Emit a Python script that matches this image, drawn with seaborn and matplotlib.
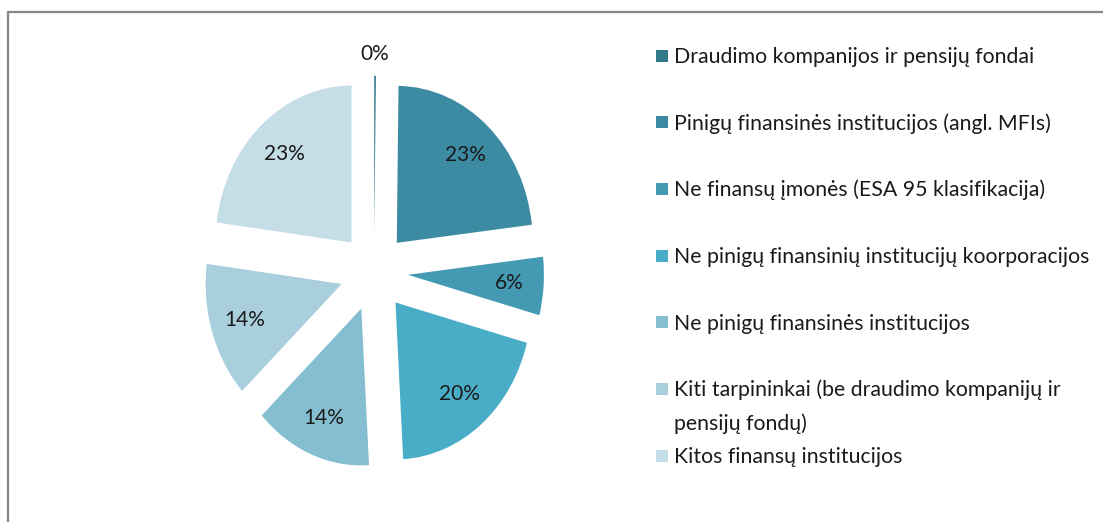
import numpy as np
import matplotlib.pyplot as plt
import seaborn as sns
from matplotlib.patches import Rectangle
from matplotlib.lines import Line2D

# Duomenys
categories = [
    "Draudimo kompanijos ir pensijų fondai",
    "Pinigų finansinės institucijos (angl. MFIs)",
    "Ne finansų įmonės (ESA 95 klasifikacija)",
    "Ne pinigų finansinių institucijų koorporacijos",
    "Ne pinigų finansinės institucijos",
    "Kiti tarpininkai (be draudimo kompanijų ir\npensijų fondų)",
    "Kitos finansų institucijos",
]
shares = [0.2, 23, 6, 20, 14, 14, 23]
colors = ["#31798a", "#3d8ba3", "#4499b3", "#4aadc8", "#85bed0", "#a9cfdd", "#c5dde7"]

sns.set_style("white")
plt.rcParams['font.family'] = ['Lato', 'DejaVu Sans']

W, H = 1103, 522
fig = plt.figure(figsize=(W / 100, H / 100), dpi=100)

# Pyragas (elipsės formos, kaip Excel)
ax = fig.add_axes([0.1665, 0.0579, 0.3452, 0.842])
wedges, texts, autotexts = ax.pie(
    shares, colors=colors, startangle=90, counterclock=False,
    explode=[0.25] * len(shares), autopct='%.0f%%', pctdistance=0.75,
    textprops=dict(fontsize=15, color='#1a1a1a'),
    wedgeprops=dict(linewidth=0),
)
ax.set_aspect('auto')
ax.set_xlim(-1.4, 1.4)
ax.set_ylim(-1.4, 1.4)

# 0% etiketė už mažo sektoriaus ribų
w0 = wedges[0]
t0 = np.deg2rad((w0.theta1 + w0.theta2) / 2)
autotexts[0].set_position((1.39 * np.cos(t0), 1.39 * np.sin(t0)))

# Legenda
fs = 15.3
x_box, x_txt = 656, 674
y0, step, line_h = 63, 66.7, 33
for i, (lab, col) in enumerate(zip(categories, colors)):
    yb = y0 + i * step
    fig.add_artist(Rectangle((x_box / W, 1 - (yb - 1.5) / H), 12 / W, 12 / H,
                             transform=fig.transFigure, facecolor=col, edgecolor='none'))
    for k, line in enumerate(lab.split("\n")):
        fig.text(x_txt / W, 1 - (yb + k * line_h) / H, line, fontsize=fs,
                 va='baseline', ha='left', color='#1a1a1a')

# Rėmelis
fig.add_artist(Line2D([7.5 / W, 7.5 / W], [0, 1 - 11.5 / H], color='#878787', lw=1.6,
                      transform=fig.transFigure))
fig.add_artist(Line2D([7.5 / W, 1], [1 - 11.5 / H, 1 - 11.5 / H], color='#878787', lw=1.6,
                      transform=fig.transFigure))

fig.savefig("out.png", dpi=100)
